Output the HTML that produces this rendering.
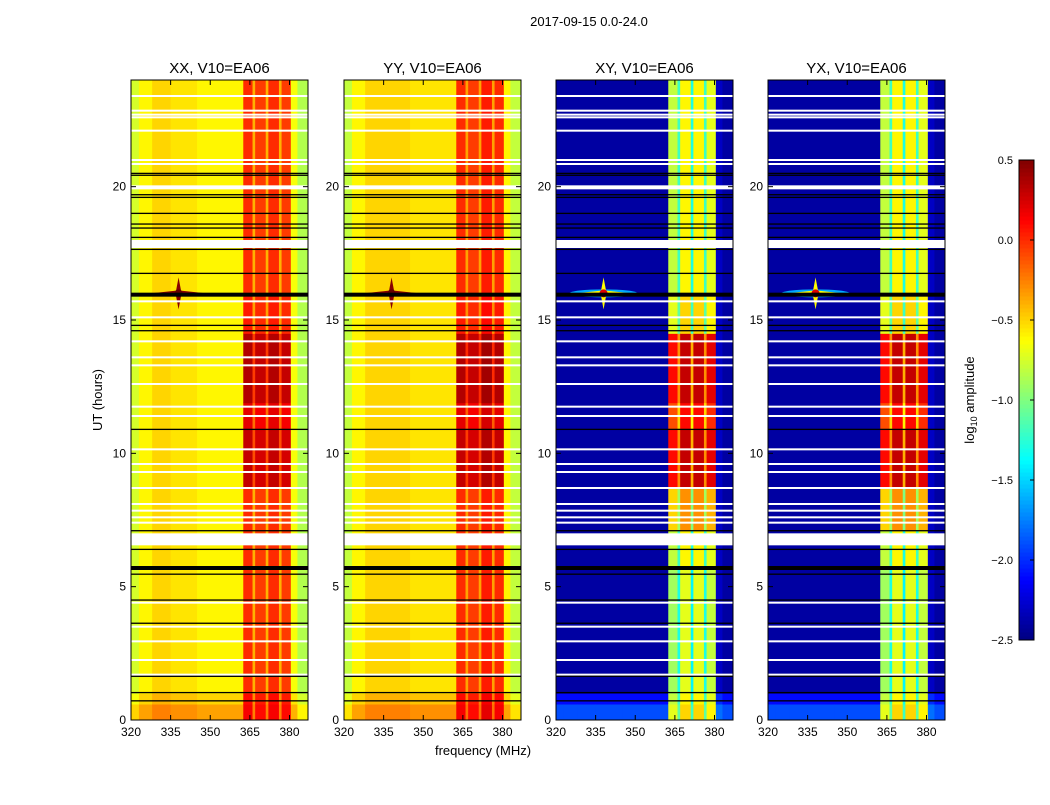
<!DOCTYPE html>
<html><head><meta charset="utf-8"><style>
body{margin:0;background:#fff;}
svg text{font-family:"Liberation Sans",sans-serif;}
</style></head><body>
<svg id="c" width="1050" height="800" xmlns="http://www.w3.org/2000/svg">
<text x="589" y="26" font-size="13" text-anchor="middle">2017-09-15 0.0-24.0</text>
<text x="102" y="400" font-size="13" text-anchor="middle" transform="rotate(-90 102 400)">UT (hours)</text>
<text x="483" y="755" font-size="13" text-anchor="middle">frequency (MHz)</text>
<text x="974" y="400" font-size="13" text-anchor="middle" transform="rotate(-90 974 400)">log<tspan font-size="9" dy="3">10</tspan><tspan dy="-3"> amplitude</tspan></text>
</svg>
<script>
const panelNames=["XX, V10=EA06","YY, V10=EA06","XY, V10=EA06","YX, V10=EA06"];
const freqEdges=[320,323,328,335,345,355,362.5,366,367,371,372,376,377,380.5,383,387];
const baseXX=[-0.75,-0.6,-0.5,-0.55,-0.6,-0.6,0.0,-0.4,-0.05,-0.4,0.0,-0.4,-0.05,-0.65,-0.85];
const baseYY=[-0.8,-0.6,-0.5,-0.5,-0.55,-0.55,0.0,-0.35,-0.05,-0.35,0.05,-0.35,0.0,-0.6,-0.8];
const baseXY=[-2.4,-2.4,-2.4,-2.4,-2.4,-2.4,-0.9,-1.3,-0.7,-1.4,-0.7,-1.3,-0.8,-2.3,-2.4];
const baseYX=[-2.4,-2.4,-2.4,-2.4,-2.4,-2.4,-0.9,-1.3,-0.7,-1.4,-0.7,-1.3,-0.8,-2.3,-2.4];
const timeEdges=[0,0.6,1.0,5.7,7.1,8.7,10.9,11.9,14.5,16,24];
const boostPar=[0.15,0.1,0,0,0,0.3,0.2,0.35,0.05,0];
const lowPar=[0.25,0.1,0,0,0,0,0,0,0,0];
const boostCross=[0.2,0.1,0,0.1,0.4,1.0,0.8,1.0,0.2,0.1];
const lowCross=[0.5,0.3,0,0,0,0,0,0,0,0];
const whiteFlags=[23.4,22.85,22.7,22.6,22.1,21.0,20.85,15.7,15.1,14.2,13.6,13.3,12.6,11.75,11.4,10.15,9.6,9.3,8.7,8.1,7.85,7.6,7.4,4.4,3.5,2.95,2.25,1.7];
const whiteBands=[[19.9,20.05],[17.7,18.0],[6.55,7.0]];
const blackFlags=[20.5,20.43,19.7,19.6,19.0,18.6,18.45,18.1,17.65,16.75,14.8,14.6,10.9,7.1,6.4,5.47,4.5,3.63,1.64,1.03,0.72];
const blackThick=[15.95,5.7];
const sourceF=[338];const sourceT=[16.0];
const xTicks=[320,335,350,365,380];
const yTicks=[0,5,10,15,20];
const cbTicks=[0.5,0.0,-0.5,-1.0,-1.5,-2.0,-2.5];
const cbLabels=["0.5","0.0","\u22120.5","\u22121.0","\u22121.5","\u22122.0","\u22122.5"];

const svg=document.getElementById('c');const NS="http://www.w3.org/2000/svg";
const px=[131,344,556,768],PW=177,PT=80,PB=720;
function mk(t,a){const e=document.createElementNS(NS,t);for(const k in a)e.setAttribute(k,a[k]);svg.appendChild(e);return e;}
function jet(v){let t=(v+2.5)/3;t=Math.max(0,Math.min(1,t));const c=x=>Math.round(255*Math.max(0,Math.min(1,1.5-Math.abs(4*t-x))));return `rgb(${c(3)},${c(2)},${c(1)})`;}
const yS=h=>PB-(h/24)*(PB-PT);
const bases=[baseXX,baseYY,baseXY,baseYX];
for(let p=0;p<4;p++){
 const x0=px[p];const xS=f=>x0+(f-320)*(PW/67);
 const base=bases[p];const cross=p>=2;
 const boost=cross?boostCross:boostPar,low=cross?lowCross:lowPar;
 for(let i=0;i<base.length;i++){for(let j=0;j<timeEdges.length-1;j++){
  const hi=i>=6&&i<=12;let v=base[i]+(hi?boost[j]:low[j]);
  const r=mk('rect',{x:xS(freqEdges[i]),y:yS(timeEdges[j+1]),width:xS(freqEdges[i+1])-xS(freqEdges[i])+0.5,height:yS(timeEdges[j])-yS(timeEdges[j+1])+0.5,fill:jet(v)});
  
  
 }}
 for(let k=0;k<sourceF.length;k++){
  const cx=xS(sourceF[k]),cy=yS(sourceT[k]);
  if(cross){const g=mk('ellipse',{cx:cx,cy:cy,rx:34,ry:4,fill:'#0af'});}
  const s=mk('path',{d:`M${cx-28},${cy}L${cx},${cy-3}L${cx+28},${cy}L${cx},${cy+3}Z M${cx-3},${cy}L${cx},${cy-16}L${cx+3},${cy}L${cx},${cy+16}Z`,fill:cross?'#ff0':'#800'});
  
  
  const s2=mk('circle',{cx:cx,cy:cy,r:4,fill:cross?'#d00':'#600'});
  
  
 }
 whiteFlags.forEach(h=>{const l=mk('rect',{x:x0,y:yS(h)-1,width:PW,height:2,fill:'#fff'});});
 whiteBands.forEach(b=>{const l=mk('rect',{x:x0,y:yS(b[1]),width:PW,height:yS(b[0])-yS(b[1]),fill:'#fff'});});
 blackFlags.forEach(h=>{const l=mk('rect',{x:x0,y:yS(h)-0.6,width:PW,height:1.3,fill:'#000'});});
 blackThick.forEach(h=>{const l=mk('rect',{x:x0,y:yS(h)-2,width:PW,height:4,fill:'#000'});});
 const fr=mk('rect',{x:x0,y:PT,width:PW,height:PB-PT,fill:'none',stroke:'#000','stroke-width':1});
 
 
 const tt=mk('text',{x:x0+PW/2,y:73,'font-size':15,'text-anchor':'middle'});tt.textContent=panelNames[p];
 
 
 xTicks.forEach(f=>{const x=xS(f);mk('line',{x1:x,x2:x,y1:PB,y2:PB-5,stroke:'#000'});mk('line',{x1:x,x2:x,y1:PT,y2:PT+5,stroke:'#000'});
  const t=mk('text',{x:x,y:PB+16,'font-size':12,'text-anchor':'middle'});t.textContent=f;
  
  });
 yTicks.forEach(h=>{const y=yS(h);mk('line',{x1:x0,x2:x0+5,y1:y,y2:y,stroke:'#000'});mk('line',{x1:x0+PW,x2:x0+PW-5,y1:y,y2:y,stroke:'#000'});
  const t=mk('text',{x:x0-5,y:y+4,'font-size':12,'text-anchor':'end'});t.textContent=h;
  
  });
}
// colorbar
const cbX=1019,cbW=15,cbT=160,cbB=640;
const cyS=v=>cbB-(v+2.5)/3*(cbB-cbT);
for(let i=0;i<120;i++){const v=-2.5+3*(i+0.5)/120;const r=mk('rect',{x:cbX,y:cyS(-2.5+3*(i+1)/120),width:cbW,height:(cbB-cbT)/120+0.5,fill:jet(v)});
 
 }
const cf=mk('rect',{x:cbX,y:cbT,width:cbW,height:cbB-cbT,fill:'none',stroke:'#000'});


cbTicks.forEach((v,i)=>{const y=cyS(v);mk('line',{x1:cbX+cbW-4,x2:cbX+cbW,y1:y,y2:y,stroke:'#000'});
 const t=mk('text',{x:1013,y:y+4,'font-size':11,'text-anchor':'end'});t.textContent=cbLabels[i];
 
 });
</script>
</body></html>
